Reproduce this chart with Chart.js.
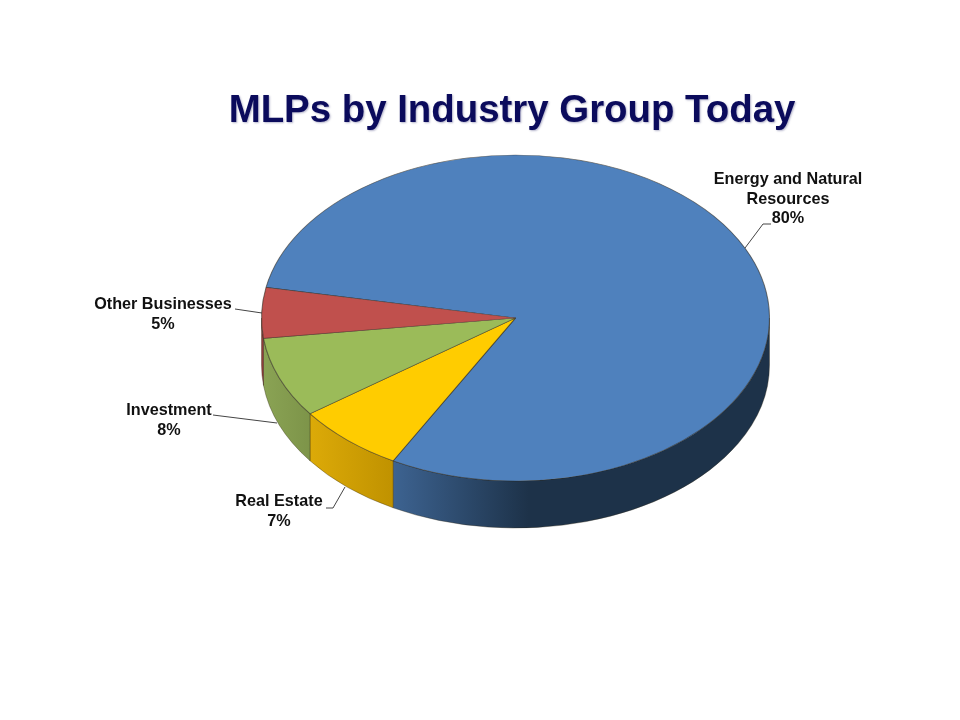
<!DOCTYPE html>
<html>
<head>
<meta charset="utf-8">
<title>MLPs by Industry Group Today</title>
<script src="https://cdn.jsdelivr.net/npm/chart.js@4"></script>
<style>
  html, body { margin: 0; background: #fff; }
  canvas { display: block; }
</style>
</head>
<body>
<canvas id="chartPie" width="960" height="720"></canvas>
<script>
const categories = ["Energy and Natural Resources", "Real Estate", "Investment", "Other Businesses"];
const shares = [80, 7, 8, 5];
const labelLines = [["Energy and Natural", "Resources"], ["Real Estate"], ["Investment"], ["Other Businesses"]];
const sliceColors = ["#4f81bd", "#ffcc00", "#9bbb59", "#c0504d"];
const wallLeft = ["#3d6391", "#dcaa08", "#8aa354", "#8f3d3a"];
const wallRight = ["#1d3249", "#c09200", "#7d9449", "#8f3d3a"];

// where the flattened pie sits on the page
const pieX = 515.5, pieY = 318, pieRx = 254, pieRy = 163, pieDepth = 47;

// label centre x, first line y, leader line points
const labelPlaces = [
  { x: 788, y: 180, leader: [[745, 248], [763, 224], [771, 224]] },
  { x: 279, y: 502, leader: [[345, 487], [333, 508], [326, 508]] },
  { x: 169, y: 411, leader: [[213, 415], [277, 423]] },
  { x: 163, y: 305, leader: [[235, 309], [262, 313]] }
];

// draws the side walls, squashes the pie into an ellipse, adds the labels
const pie3d = {
  id: "pie3d",
  beforeDraw(chart) {
    const c = chart.ctx;
    c.shadowColor = "rgba(90,90,140,0.45)";
    c.shadowBlur = 2;
    c.shadowOffsetX = 1;
    c.shadowOffsetY = 1;
  },
  beforeDatasetsDraw(chart) {
    const c = chart.ctx;
    c.shadowColor = "transparent";
    c.shadowBlur = 0;
    c.shadowOffsetX = 0;
    c.shadowOffsetY = 0;

    const arcs = chart.getDatasetMeta(0).data;
    arcs.forEach((arc, i) => {
      [-2 * Math.PI, 0, 2 * Math.PI].forEach(turn => {
        const lo = Math.max(arc.startAngle, turn);
        const hi = Math.min(arc.endAngle, turn + Math.PI);
        if (hi <= lo) return;
        const xa = pieX + pieRx * Math.cos(lo);
        const xb = pieX + pieRx * Math.cos(hi);
        const g = c.createLinearGradient(Math.min(xa, xb), 0, Math.max(xa, xb), 0);
        g.addColorStop(0, wallLeft[i]);
        g.addColorStop(i === 0 ? 0.36 : 1, wallRight[i]);
        g.addColorStop(1, wallRight[i]);
        c.beginPath();
        c.ellipse(pieX, pieY, pieRx, pieRy, 0, lo, hi);
        c.ellipse(pieX, pieY + pieDepth, pieRx, pieRy, 0, hi, lo, true);
        c.closePath();
        c.fillStyle = g;
        c.fill();
        c.strokeStyle = "rgba(50,40,20,0.5)";
        c.lineWidth = 0.7;
        c.stroke();
      });
    });

    const a = arcs[0];
    c.save();
    c.translate(pieX, pieY);
    c.scale(pieRx / a.outerRadius, pieRy / a.outerRadius);
    c.translate(-a.x, -a.y);
  },
  afterDatasetsDraw(chart) {
    const c = chart.ctx;
    c.restore();

    c.fillStyle = "#111";
    c.strokeStyle = "#444";
    c.lineWidth = 1;
    c.font = "bold 16.2px 'Liberation Sans'";
    c.textAlign = "center";
    c.textBaseline = "middle";
    labelPlaces.forEach((p, i) => {
      const lines = labelLines[i].concat(shares[i] + "%");
      lines.forEach((t, n) => c.fillText(t, p.x, p.y + n * 19.5));
      c.beginPath();
      p.leader.forEach((pt, n) => n ? c.lineTo(pt[0], pt[1]) : c.moveTo(pt[0], pt[1]));
      c.stroke();
    });
  }
};

new Chart(document.getElementById("chartPie"), {
  type: "pie",
  data: {
    labels: categories,
    datasets: [{
      data: shares,
      backgroundColor: sliceColors,
      borderColor: "rgba(45,40,30,0.6)",
      borderWidth: 1
    }]
  },
  options: {
    responsive: false,
    animation: false,
    rotation: 280.8,
    layout: { padding: { left: 64, right: 0, top: 0, bottom: 100 } },
    plugins: {
      legend: { display: false },
      tooltip: { enabled: false },
      title: {
        display: true,
        text: "MLPs by Industry Group Today",
        color: "#0b0b5c",
        font: { family: "'Liberation Sans'", size: 38.4, weight: "bold" },
        padding: { top: 88, bottom: 6 }
      }
    }
  },
  plugins: [pie3d]
});
</script>
</body>
</html>
